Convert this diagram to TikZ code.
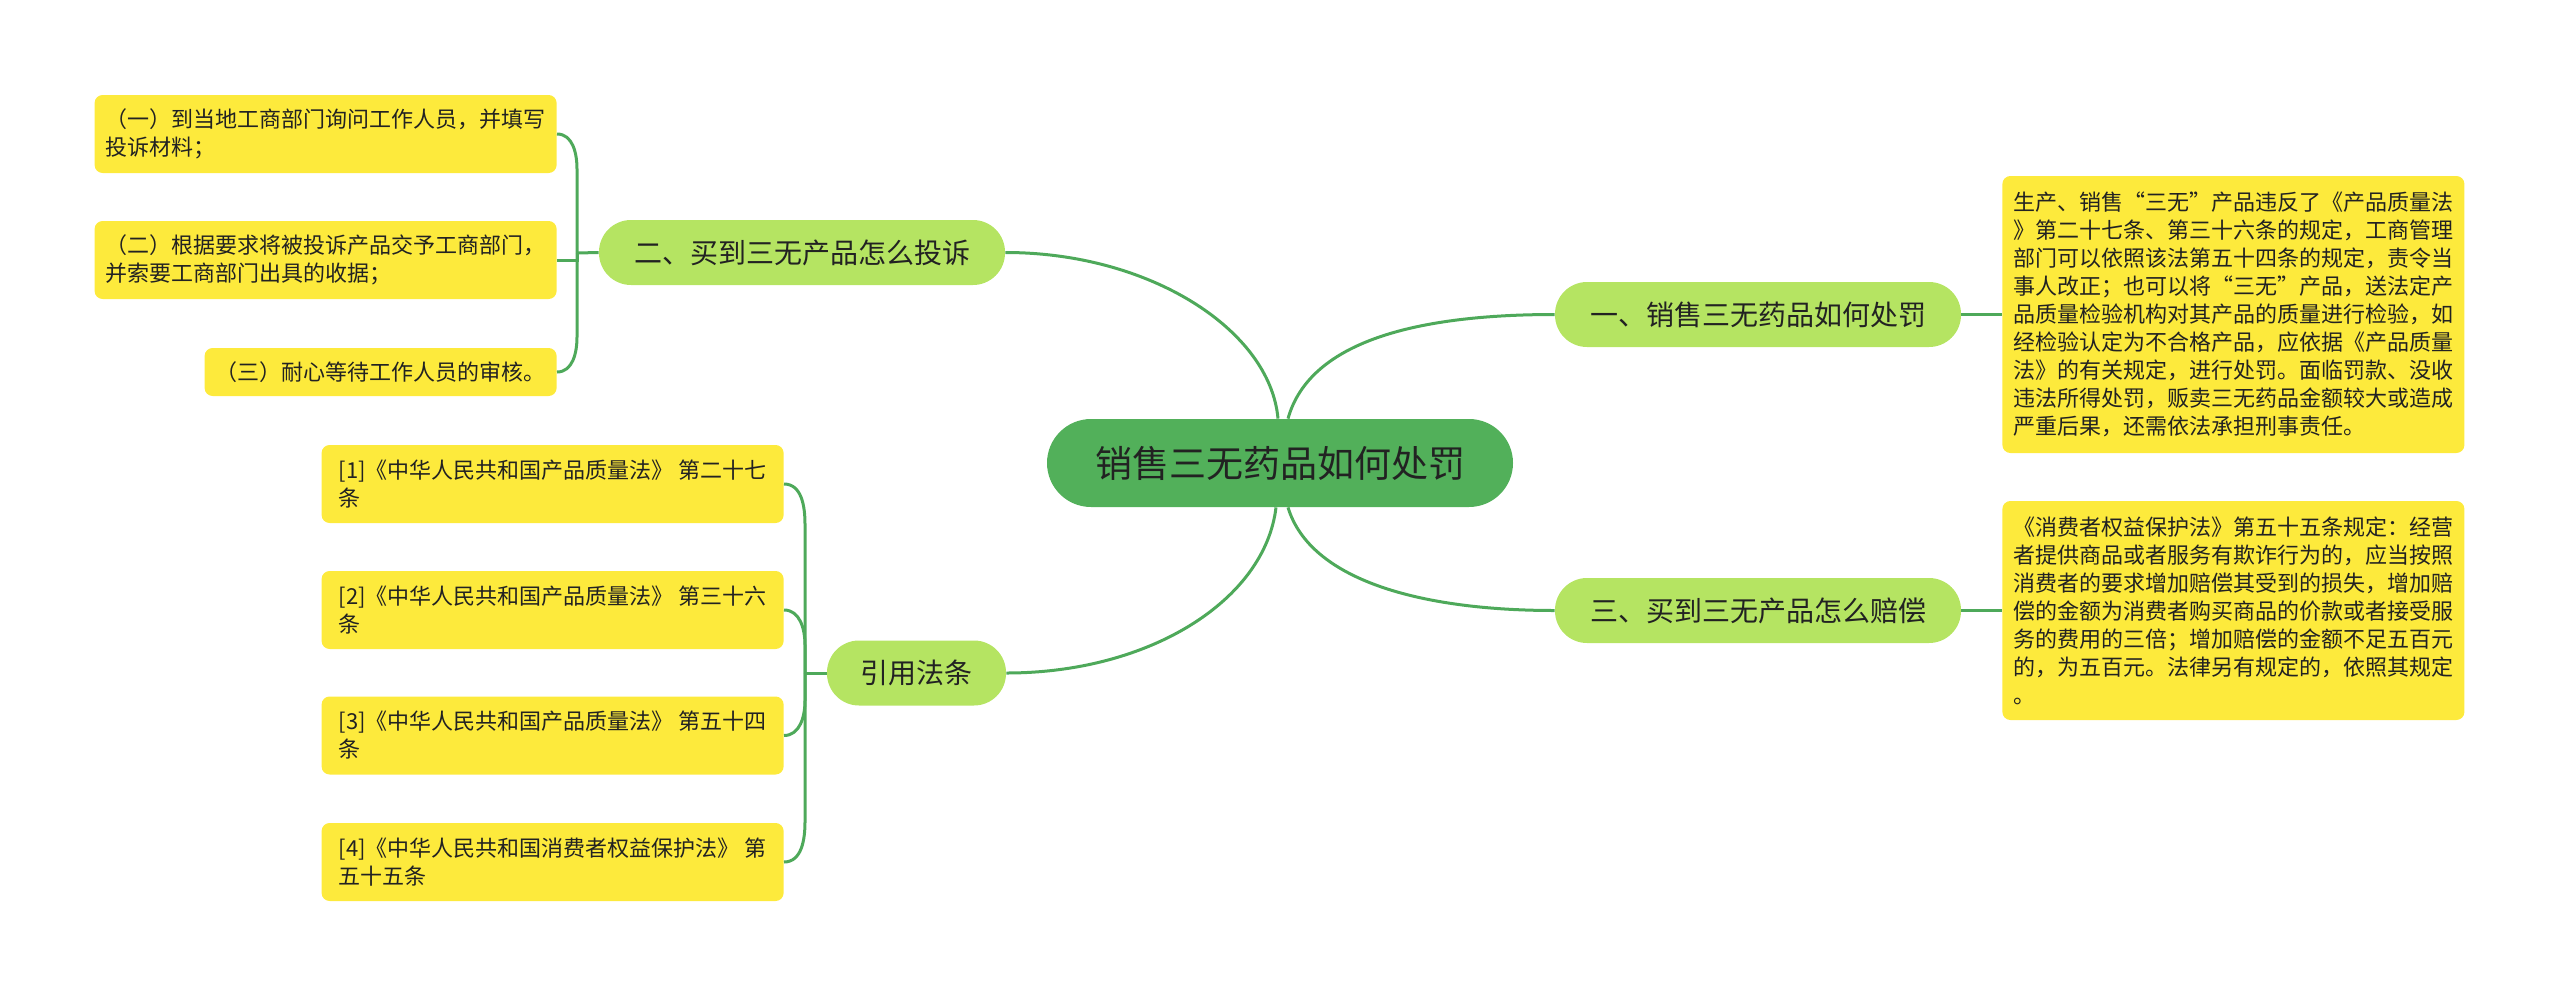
\documentclass[tikz,border=0pt]{standalone}
\usepackage{fontspec}
\setmainfont{Noto Sans CJK SC}
\definecolor{rootgreen}{HTML}{52B05A}
\definecolor{subgreen}{HTML}{B5E462}
\definecolor{leafyellow}{HTML}{FDEA3C}
\definecolor{linkgreen}{HTML}{4EA95A}
\definecolor{ink}{HTML}{222222}
\tikzset{
  root/.style={rectangle, rounded corners=22pt, fill=rootgreen, text=ink, minimum width=233pt,
               minimum height=44pt, inner sep=0pt, font=\fontsize{18.5pt}{22pt}\selectfont},
  branch/.style={rectangle, rounded corners=16pt, fill=subgreen, text=ink, minimum width=#1,
                 minimum height=32.5pt, inner sep=0pt, font=\fontsize{14pt}{17pt}\selectfont},
  leaf/.style={rectangle, rounded corners=4pt, fill=leafyellow, text=ink, align=left,
               minimum height=#1, inner xsep=5.5pt, inner ysep=0pt, font=\fontsize{11pt}{14pt}\selectfont},
  ln/.style={draw=linkgreen, line width=1.5pt},
}
\begin{document}
\begin{tikzpicture}[x=0.5pt, y=0.5pt]
\useasboundingbox (0,0) rectangle (2560,-996);

\node[root] (root) at (1280,-463) {销售三无药品如何处罚};
\node[branch=203pt] (pun) at (1758,-314.5) {一、销售三无药品如何处罚};
\node[branch=203pt] (cmp) at (802,-252.5) {二、买到三无产品怎么投诉};
\node[branch=203pt] (pay) at (1758,-610.5) {三、买到三无产品怎么赔偿};
\node[branch=89.5pt] (cite) at (916.5,-673) {引用法条};

% complaint steps
\node[leaf=39pt, minimum width=231pt, anchor=east] (st1) at (557,-134) {（一）到当地工商部门询问工作人员，并填写\\投诉材料；};
\node[leaf=39pt, minimum width=231pt, anchor=east] (st2) at (557,-260) {（二）根据要求将被投诉产品交予工商部门，\\并索要工商部门出具的收据；};
\node[leaf=24pt, anchor=east] (st3) at (557,-372) {（三）耐心等待工作人员的审核。};

% cited articles
\node[leaf=39pt, minimum width=231pt, anchor=east] (law1) at (784,-484) {[1]《中华人民共和国产品质量法》 第二十七\\条};
\node[leaf=39pt, minimum width=231pt, anchor=east] (law2) at (784,-610) {[2]《中华人民共和国产品质量法》 第三十六\\条};
\node[leaf=39pt, minimum width=231pt, anchor=east] (law3) at (784,-735.5) {[3]《中华人民共和国产品质量法》 第五十四\\条};
\node[leaf=39pt, minimum width=231pt, anchor=east] (law4) at (784,-862) {[4]《中华人民共和国消费者权益保护法》 第\\五十五条};

% right texts
\node[leaf=138.5pt, minimum width=231pt, anchor=west] (punTxt) at (2002,-314.5) {生产、销售“三无”产品违反了《产品质量法\\》第二十七条、第三十六条的规定，工商管理\\部门可以依照该法第五十四条的规定，责令当\\事人改正；也可以将“三无”产品，送法定产\\品质量检验机构对其产品的质量进行检验，如\\经检验认定为不合格产品，应依据《产品质量\\法》的有关规定，进行处罚。面临罚款、没收\\违法所得处罚，贩卖三无药品金额较大或造成\\严重后果，还需依法承担刑事责任。};
\node[leaf=109.5pt, minimum width=231pt, anchor=west] (payTxt) at (2002,-610.5) {《消费者权益保护法》第五十五条规定：经营\\者提供商品或者服务有欺诈行为的，应当按照\\消费者的要求增加赔偿其受到的损失，增加赔\\偿的金额为消费者购买商品的价款或者接受服\\务的费用的三倍；增加赔偿的金额不足五百元\\的，为五百元。法律另有规定的，依照其规定\\。};

\coordinate (cj) at (577,-253);
\coordinate (rj) at (805,-673);

% root to branches
\draw[ln] ([xshift=-1pt]root.north) .. controls (1270,-330) and (1150,-252.5) .. (cmp.east);
\draw[ln] ([xshift=4pt]root.north) .. controls (1310,-340) and (1420,-314.5) .. (pun.west);
\draw[ln] ([xshift=-2pt]root.south) .. controls (1265,-600) and (1150,-673) .. (cite.east);
\draw[ln] ([xshift=4pt]root.south) .. controls (1310,-580) and (1420,-610.5) .. (pay.west);

% branches to leaves
\draw[ln] (pun.east) -- (punTxt.west);
\draw[ln] (pay.east) -- (payTxt.west);
\draw[ln] (cmp.west) -- (cj);
\draw[ln] (st1.east) to[out=0,in=90] ++(20,-35) -- (cj);
\draw[ln] (st2.east) -| (cj);
\draw[ln] (st3.east) to[out=0,in=-90] ++(20,35) -- (cj);
\draw[ln] (cite.west) -- (rj);
\draw[ln] (law1.east) to[out=0,in=90] ++(21,-40) -- (rj);
\draw[ln] (law2.east) to[out=0,in=90] ++(21,-35) -- (rj);
\draw[ln] (law3.east) to[out=0,in=-90] ++(21,35) -- (rj);
\draw[ln] (law4.east) to[out=0,in=-90] ++(21,40) -- (rj);
\end{tikzpicture}
\end{document}
